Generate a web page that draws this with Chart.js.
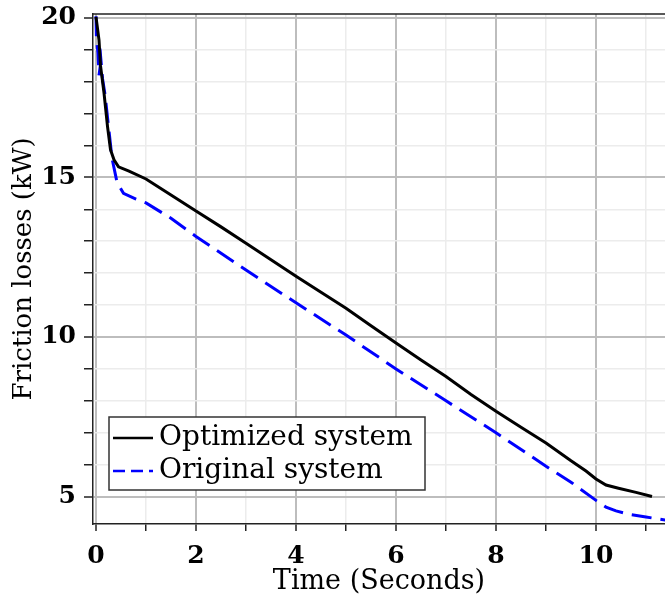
<!DOCTYPE html>
<html>
<head>
<meta charset="utf-8">
<script src="https://cdn.jsdelivr.net/npm/chart.js@4/dist/chart.umd.min.js"></script>
<style>
  html, body { margin: 0; padding: 0; background: #fff; }
  #wrap { width: 665px; height: 598px; position: relative; }
</style>
</head>
<body>
<div id="wrap"><canvas id="chart"></canvas></div>
<script>
// optimized system (black, solid)
var timeOpt = [0, 0.06, 0.09, 0.16, 0.23, 0.29, 0.36, 0.45, 0.66, 1.0, 1.5, 2, 2.5, 3, 3.5, 4, 4.5, 5, 5.5, 6, 6.5, 7, 7.5, 8, 8.5, 9, 9.5, 9.8, 10, 10.2, 10.45, 10.8, 11.12];
var lossOpt = [20.03, 19.3, 18.5, 17.65, 16.6, 15.87, 15.55, 15.33, 15.2, 14.95, 14.45, 13.95, 13.45, 12.94, 12.42, 11.9, 11.4, 10.9, 10.35, 9.81, 9.28, 8.76, 8.2, 7.67, 7.17, 6.68, 6.12, 5.8, 5.55, 5.36, 5.26, 5.13, 5.0];

// original system (blue, dashed)
var timeOrig = [0, 0.01, 0.04, 0.06, 0.1, 0.13, 0.18, 0.25, 0.32, 0.42, 0.55, 0.8, 1, 1.5, 2, 3, 4, 5, 6, 7, 8, 9, 9.5, 10, 10.2, 10.4, 10.7, 11, 11.4];
var lossOrig = [20.05, 19.3, 18.9, 18.2, 18.65, 18.1, 17.6, 16.6, 15.6, 14.85, 14.5, 14.32, 14.2, 13.72, 13.15, 12.1, 11.07, 10.06, 9.0, 8.0, 7.0, 5.95, 5.45, 4.88, 4.67, 4.55, 4.43, 4.36, 4.26];

var seriesNames = ["Optimized system", "Original system"];
var xTitle = "Time (Seconds)";
var yTitle = "Friction losses (kW)";

function toPoints(xs, ys) {
    var pts = [];
    for (var i = 0; i < xs.length; i++) {
        pts.push({x: xs[i], y: ys[i]});
    }
    return pts;
}

var FONT = "'DejaVu Serif', serif";

// top border line + boxed legend inside the plot
var framePlugin = {
    id: 'frame',
    afterDraw: function(chart) {
        var ctx = chart.ctx;
        var a = chart.chartArea;
        ctx.save();
        ctx.strokeStyle = '#222';
        ctx.lineWidth = 1.5;
        ctx.beginPath();
        ctx.moveTo(a.left, a.top);
        ctx.lineTo(a.right, a.top);
        ctx.stroke();

        // legend
        var bx = 109, by = 417, bw = 316, bh = 73;
        ctx.fillStyle = '#fff';
        ctx.fillRect(bx, by, bw, bh);
        ctx.strokeStyle = '#333';
        ctx.lineWidth = 1.5;
        ctx.strokeRect(bx, by, bw, bh);
        ctx.font = "28px " + FONT;
        ctx.textBaseline = 'middle';
        chart.data.datasets.forEach(function(ds, i) {
            var y = by + 21 + i * 33;
            ctx.strokeStyle = ds.borderColor;
            ctx.lineWidth = 2.5;
            ctx.setLineDash(i === 1 ? [12, 6] : []);
            ctx.beginPath();
            ctx.moveTo(bx + 4, y);
            ctx.lineTo(bx + 44, y);
            ctx.stroke();
            ctx.setLineDash([]);
            ctx.fillStyle = '#000';
            ctx.fillText(ds.label, bx + 50, y);
        });
        ctx.restore();
    }
};

new Chart(document.getElementById('chart'), {
    type: 'scatter',
    data: {
        datasets: [{
            label: seriesNames[0],
            data: toPoints(timeOpt, lossOpt),
            showLine: true,
            borderColor: '#000000',
            borderWidth: 3,
            pointRadius: 0,
            tension: 0
        }, {
            label: seriesNames[1],
            data: toPoints(timeOrig, lossOrig),
            showLine: true,
            borderColor: '#0000ff',
            borderWidth: 3,
            borderDash: [20, 9],
            pointRadius: 0,
            tension: 0
        }]
    },
    options: {
        responsive: true,
        maintainAspectRatio: false,
        animation: false,
        layout: { padding: { top: 14, right: 0, left: 0, bottom: 0 } },
        plugins: {
            legend: { display: false },
            tooltip: { enabled: false }
        },
        scales: {
            x: {
                type: 'linear',
                min: -0.06,
                max: 11.38,
                afterFit: function(scale) {
                    scale.height = 74;
                    scale.paddingLeft = 0;
                    scale.paddingRight = 0;
                },
                ticks: {
                    stepSize: 1,
                    includeBounds: false,
                    autoSkip: false,
                    maxRotation: 0,
                    padding: 10,
                    color: '#000',
                    font: { family: FONT, size: 25, weight: 'bold' },
                    callback: function(v) { return v % 2 === 0 ? v : ''; }
                },
                grid: {
                    color: function(c) { return c.tick && c.tick.value % 2 === 0 ? '#bdbdbd' : '#ececec'; },
                    lineWidth: function(c) { return c.tick && c.tick.value % 2 === 0 ? 2 : 1.5; },
                    tickColor: '#222',
                    tickLength: 7,
                    tickWidth: 1.5
                },
                border: { color: '#222', width: 1.5 },
                title: {
                    display: true,
                    text: xTitle,
                    color: '#000',
                    font: { family: FONT, size: 27 },
                    padding: { top: 0, bottom: 0 }
                }
            },
            y: {
                min: 4.14,
                max: 20.12,
                afterFit: function(scale) {
                    scale.width = 93;
                    scale.paddingTop = 0;
                    scale.paddingBottom = 0;
                },
                ticks: {
                    stepSize: 1,
                    includeBounds: false,
                    autoSkip: false,
                    padding: 8,
                    color: '#000',
                    font: { family: FONT, size: 25, weight: 'bold' },
                    callback: function(v) { return v % 5 === 0 ? v : ''; }
                },
                grid: {
                    color: function(c) { return c.tick && c.tick.value % 5 === 0 ? '#bdbdbd' : '#ececec'; },
                    lineWidth: function(c) { return c.tick && c.tick.value % 5 === 0 ? 2 : 1.5; },
                    tickColor: '#222',
                    tickLength: 9,
                    tickWidth: 1.5
                },
                border: { color: '#222', width: 1.5 },
                title: {
                    display: true,
                    text: yTitle,
                    color: '#000',
                    font: { family: FONT, size: 26 },
                    padding: { top: 9, bottom: 0 }
                }
            }
        }
    },
    plugins: [framePlugin]
});
</script>
</body>
</html>
